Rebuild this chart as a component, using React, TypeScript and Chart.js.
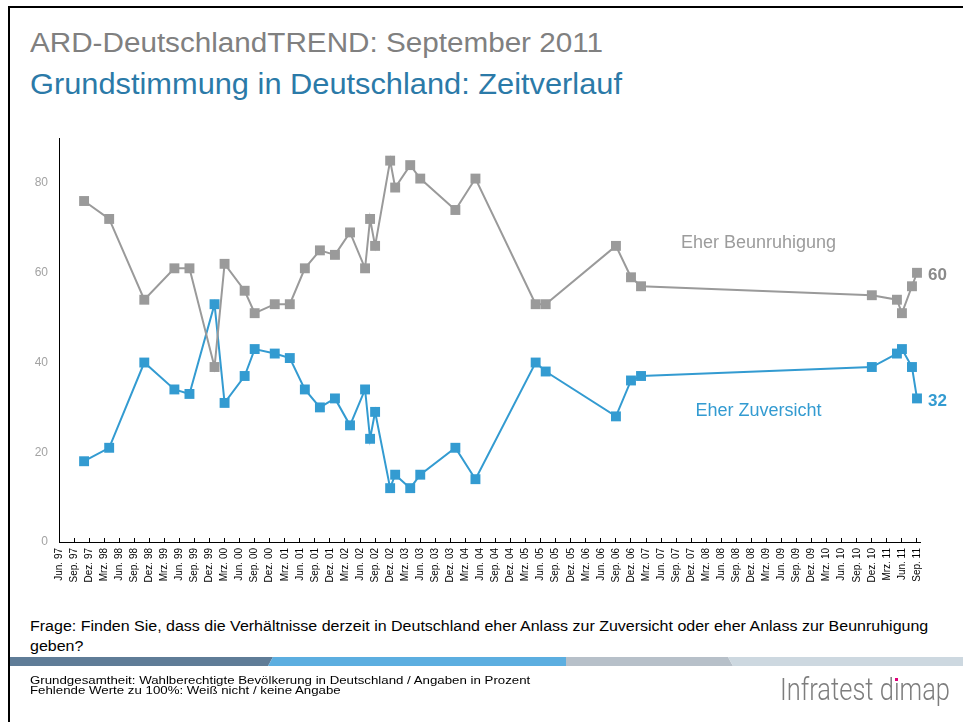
import React, { useEffect, useRef } from 'react';
import { Chart, registerables } from 'chart.js';

Chart.register(...registerables);

// ---------- data ----------
const SURVEY_MONTHS = [
  '1997-11', '1998-04', '1998-11', '1999-05', '1999-08', '2000-01', '2000-03', '2000-07',
  '2000-09', '2001-01', '2001-04', '2001-07', '2001-10', '2002-01', '2002-04', '2002-07',
  '2002-08', '2002-09', '2002-12', '2003-01', '2003-04', '2003-06', '2004-01', '2004-05',
  '2005-05', '2005-07', '2006-09', '2006-12', '2007-02', '2010-12', '2011-05', '2011-06',
  '2011-08', '2011-09',
];
const BEUNRUHIGUNG = [
  76, 72, 54, 61, 61, 39, 62, 56, 51, 53, 53, 61, 65, 64, 69, 61,
  72, 66, 85, 79, 84, 81, 74, 81, 53, 53, 66, 59, 57, 55, 54, 51,
  57, 60,
];
const ZUVERSICHT = [
  18, 21, 40, 34, 33, 53, 31, 37, 43, 42, 41, 34, 30, 32, 26, 34,
  23, 29, 12, 15, 12, 15, 21, 14, 40, 38, 28, 36, 37, 39, 42, 43,
  39, 32,
];
const SERIES_NAMES = ['Eher Beunruhigung', 'Eher Zuversicht'];
const QUARTER_NAMES = ['Mrz.', 'Jun.', 'Sep.', 'Dez.'];
const AXIS_START = '1997-06';
const AXIS_END = '2011-09';
const Y_TICKS = [0, 20, 40, 60, 80];

const TITLE = 'ARD-DeutschlandTREND: September 2011';
const SUBTITLE = 'Grundstimmung in Deutschland: Zeitverlauf';
const QUESTION = [
  'Frage: Finden Sie, dass die Verhältnisse derzeit in Deutschland eher Anlass zur Zuversicht oder eher Anlass zur Beunruhigung',
  'geben?',
];
const FOOTNOTES = [
  'Grundgesamtheit: Wahlberechtigte Bevölkerung in Deutschland / Angaben in Prozent',
  'Fehlende Werte zu 100%: Weiß nicht / keine Angabe',
];
const LOGO_PARTS = ['Infratest d', 'ı', 'map'];

// ---------- styling ----------
const GRAY = '#9a9a9a';
const GRAY_DARK = '#8a8a8a';
const BLUE = '#339bd1';
const SANS = '"Liberation Sans", Arial, sans-serif';
const X_TICK_FONT = { family: SANS, size: 10 };

const parseYM = (s: string) => {
  const [y, m] = s.split('-').map(Number);
  return y * 12 + (m - 1);
};
const START_ABS = parseYM(AXIS_START);
const monthIndex = (s: string) => parseYM(s) - START_ABS;

const measureCtx = document.createElement('canvas').getContext('2d') as CanvasRenderingContext2D;
function measure(font: string, text: string) {
  measureCtx.font = font;
  return measureCtx.measureText(text).width;
}

function quarterLabel(v: number) {
  const abs = START_ABS + v;
  const year = Math.floor(abs / 12);
  const month = (abs % 12) + 1;
  if (month % 3 !== 0) return '';
  return `${QUARTER_NAMES[month / 3 - 1]} ${String(year % 100).padStart(2, '0')}`;
}

const annotationPlugin = {
  id: 'seriesAnnotations',
  afterDatasetsDraw(chart: any) {
    const { ctx } = chart;
    const xs = chart.scales.x;
    const ys = chart.scales.y;
    const opts = chart.options.plugins.seriesAnnotations;
    ctx.save();
    chart.data.datasets.forEach((ds: any, i: number) => {
      const a = opts.labels[i];
      ctx.font = `400 18px ${SANS}`;
      ctx.fillStyle = a.color;
      ctx.textAlign = 'center';
      ctx.textBaseline = 'alphabetic';
      ctx.fillText(SERIES_NAMES[i], xs.getPixelForValue(a.x), ys.getPixelForValue(a.y), a.maxWidth);
      const last = ds.data[ds.data.length - 1];
      ctx.font = `700 17px ${SANS}`;
      ctx.fillStyle = a.valueColor;
      ctx.textAlign = 'left';
      ctx.fillText(String(last.y), xs.getPixelForValue(last.x) + 11, ys.getPixelForValue(last.y) + 7.3);
    });
    ctx.restore();
  },
};

function FitText(props: {
  text: string; x: number; baseline: number; size: number; color: string;
  width?: number; scale?: number; family?: string; weight?: number; asc?: number;
}) {
  const family = props.family || SANS;
  const weight = props.weight || 400;
  const font = `${weight} ${props.size}px ${family}`;
  const s = props.scale ?? (props.width ? props.width / measure(font, props.text) : 1);
  const asc = props.asc ?? 0.8465;
  return (
    <div
      style={{
        position: 'absolute',
        left: props.x,
        top: props.baseline - asc * props.size,
        fontFamily: family,
        fontWeight: weight,
        fontSize: props.size,
        lineHeight: `${props.size}px`,
        color: props.color,
        whiteSpace: 'pre',
        transform: `scaleX(${s})`,
        transformOrigin: '0 0',
      }}
    >
      {props.text}
    </div>
  );
}

export default function App() {
  const canvasRef = useRef<HTMLCanvasElement>(null);

  useEffect(() => {
    const canvas = canvasRef.current;
    if (!canvas) return;
    const xMax = monthIndex(AXIS_END) + 0.6;
    const chart = new Chart(canvas, {
      type: 'line',
      data: {
        datasets: [
          {
            label: SERIES_NAMES[0],
            data: SURVEY_MONTHS.map((d, i) => ({ x: monthIndex(d), y: BEUNRUHIGUNG[i] })),
            borderColor: GRAY,
            backgroundColor: GRAY,
            borderWidth: 2,
            pointStyle: 'rect',
            pointRadius: 7,
            pointBorderWidth: 0,
            pointBackgroundColor: GRAY,
            tension: 0,
            clip: false,
          },
          {
            label: SERIES_NAMES[1],
            data: SURVEY_MONTHS.map((d, i) => ({ x: monthIndex(d), y: ZUVERSICHT[i] })),
            borderColor: BLUE,
            backgroundColor: BLUE,
            borderWidth: 2,
            pointStyle: 'rect',
            pointRadius: 7,
            pointBorderWidth: 0,
            pointBackgroundColor: BLUE,
            tension: 0,
            clip: false,
          },
        ],
      },
      options: {
        animation: false,
        responsive: false,
        layout: { padding: { top: 15, right: 43, left: 0, bottom: 0 } },
        plugins: {
          legend: { display: false },
          tooltip: { enabled: false },
          seriesAnnotations: {
            labels: [
              { x: 139.4, y: 65.5, maxWidth: 159, color: '#9c9c9c', valueColor: GRAY_DARK },
              { x: 139.4, y: 28.1, maxWidth: 128, color: BLUE, valueColor: BLUE },
            ],
          },
        } as any,
        scales: {
          x: {
            type: 'linear',
            min: 0,
            max: xMax,
            afterFit: (s: any) => { s.height = 68; },
            grid: { display: true, drawOnChartArea: false, drawTicks: true, tickLength: -4, color: '#000', lineWidth: 1 },
            border: { display: true, color: '#000', width: 1 },
            ticks: {
              stepSize: 3,
              autoSkip: false,
              includeBounds: false,
              maxRotation: 90,
              minRotation: 90,
              padding: 10,
              color: '#000',
              font: X_TICK_FONT,
              callback: (v: any) => quarterLabel(Number(v)),
            },
          },
          y: {
            min: 0,
            max: 90,
            afterFit: (s: any) => { s.width = 59; },
            grid: { display: false, drawTicks: false },
            border: { display: true, color: '#000', width: 1 },
            ticks: {
              stepSize: 20,
              includeBounds: false,
              padding: 11,
              color: '#a3a3a3',
              font: { family: SANS, size: 12 },
              callback: (v: any) => (Y_TICKS.includes(Number(v)) ? String(v) : ''),
            },
          },
        },
      } as any,
      plugins: [annotationPlugin],
    });
    return () => chart.destroy();
  }, []);

  const qFont = `400 14px ${SANS}`;
  const qScale = 900 / measure(qFont, QUESTION[0]);
  const fFont = `400 11.5px ${SANS}`;
  const fScale = 501 / measure(fFont, FOOTNOTES[0]);
  const logoFamily = 'Roboto, "Liberation Sans", sans-serif';
  const logoFont = `300 31px ${logoFamily}`;
  const logoText = LOGO_PARTS.join('');
  const logoScale = 170 / measure(logoFont, logoText);
  const dotX = 780 + (measure(logoFont, LOGO_PARTS[0]) + measure(logoFont, LOGO_PARTS[1]) / 2) * logoScale;

  return (
    <div
      style={{
        position: 'absolute', left: 0, top: 0, width: 963, height: 722,
        background: '#fff', overflow: 'hidden', fontFamily: SANS,
      }}
    >
      <div style={{ position: 'absolute', left: 8, top: 6, width: 955, height: 2, background: '#000' }} />
      <div style={{ position: 'absolute', left: 8, top: 6, width: 2, height: 716, background: '#000' }} />

      <FitText text={TITLE} x={30} baseline={53} size={27} width={573} color="#808080" />
      <FitText text={SUBTITLE} x={30} baseline={95} size={29} width={592} color="#2b7aa8" />

      <div style={{ position: 'absolute', left: 0, top: 120, width: 963, height: 490 }}>
        <canvas ref={canvasRef} width={963} height={490} style={{ display: 'block' }} />
      </div>

      <FitText text={QUESTION[0]} x={30} baseline={630.5} size={14} scale={qScale} color="#000" />
      <FitText text={QUESTION[1]} x={30} baseline={650.5} size={14} scale={qScale} color="#000" />

      <svg style={{ position: 'absolute', left: 0, top: 0 }} width={963} height={722}>
        <polygon points="10,657 273,657 268,666 10,666" fill="#5f7c97" />
        <polygon points="273,657 566,657 566,666 268,666" fill="#5caee0" />
        <polygon points="566,657 728,657 733,666 566,666" fill="#b7c0c9" />
        <polygon points="728,657 963,657 963,666 733,666" fill="#cdd8e0" />
      </svg>

      <FitText text={FOOTNOTES[0]} x={30} baseline={684.3} size={11.5} scale={fScale} color="#000" />
      <FitText text={FOOTNOTES[1]} x={30} baseline={695} size={11.5} scale={fScale} color="#000" />

      <FitText text={logoText} x={780} baseline={700} size={31} scale={logoScale} color="#7d7d7d"
        family={logoFamily} weight={300} asc={0.8418} />
      <div style={{ position: 'absolute', left: dotX - 1.3, top: 677.5, width: 2.6, height: 3.2, background: '#e0007a' }} />
    </div>
  );
}
